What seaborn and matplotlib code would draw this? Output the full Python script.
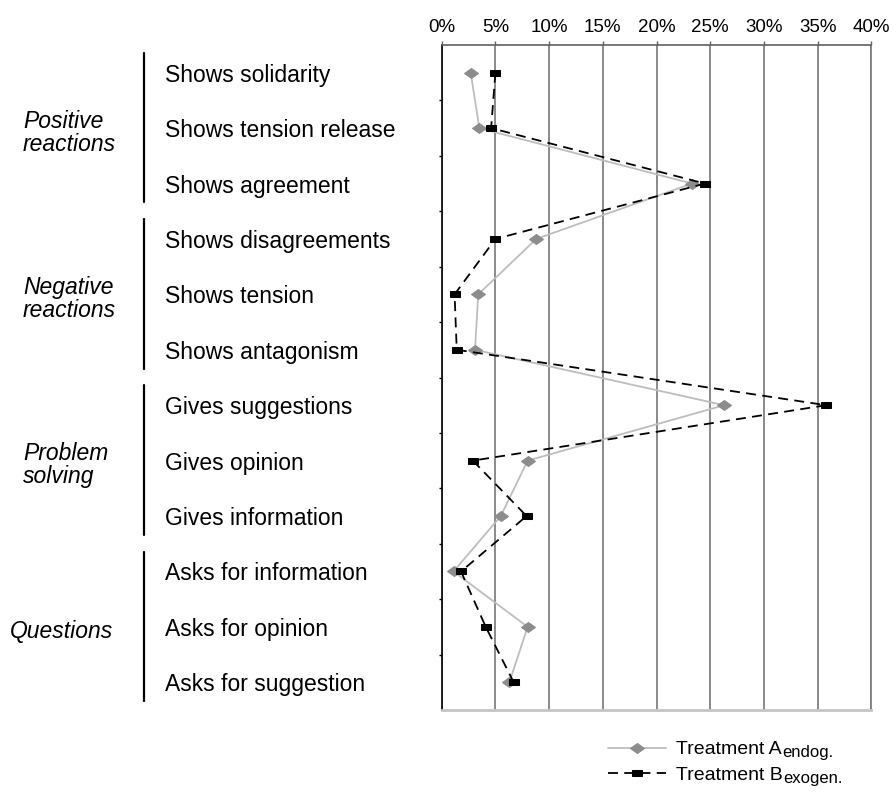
import pandas as pd
import matplotlib.pyplot as plt
import seaborn as sns
import numpy as np
from matplotlib.markers import MarkerStyle
from matplotlib.transforms import Affine2D, blended_transform_factory
from matplotlib.ticker import PercentFormatter, FixedLocator

categories = ['Shows solidarity', 'Shows tension release', 'Shows agreement',
              'Shows disagreements', 'Shows tension', 'Shows antagonism',
              'Gives suggestions', 'Gives opinion', 'Gives information',
              'Asks for information', 'Asks for opinion', 'Asks for suggestion']
groups = ['Positive\nreactions', 'Negative\nreactions', 'Problem\nsolving', 'Questions']
treat_a = [2.7, 3.5, 23.3, 8.8, 3.4, 3.1, 26.3, 8.0, 5.5, 1.1, 8.0, 6.3]
treat_b = [5.0, 4.6, 24.5, 5.0, 1.2, 1.4, 35.8, 2.9, 7.9, 1.8, 4.1, 6.7]
legend_labels = ['Treatment A', 'Treatment B']
legend_subs = ['endog.', 'exogen.']

pos = np.arange(len(categories))
df = pd.DataFrame({
    'pos': np.concatenate([pos, pos]),
    'share': treat_a + treat_b,
    'treatment': ['A'] * len(pos) + ['B'] * len(pos),
})

sns.set_style('white')
plt.rcParams['font.family'] = ['Liberation Sans', 'DejaVu Sans']
plt.rcParams['text.color'] = 'black'
plt.rcParams['xtick.labelcolor'] = 'black'
plt.rcParams['ytick.labelcolor'] = 'black'

fig = plt.figure(figsize=(8.96, 8.02), dpi=100)
ax = fig.add_axes([441.7 / 896, 1 - 710 / 802, 429.7 / 896, 665 / 802])

sns.lineplot(data=df, x='share', y='pos', hue='treatment', style='treatment',
             orient='y', sort=False, estimator=None, errorbar=None,
             palette={'A': '#bdbdbd', 'B': 'black'},
             dashes={'A': '', 'B': (5.5, 3.5)}, markers={'A': 'D', 'B': 's'},
             linewidth=1.3, legend=False, ax=ax)

la, lb = ax.lines[0], ax.lines[1]
la.set_marker(MarkerStyle('D', transform=Affine2D().scale(1.0, 0.62)))
la.set_markersize(7.5)
la.set_markerfacecolor('#8c8c8c')
la.set_markeredgecolor('#8c8c8c')
lb.set_marker(MarkerStyle('s', transform=Affine2D().scale(1.0, 0.58)))
lb.set_markersize(7)
lb.set_markerfacecolor('black')
lb.set_markeredgecolor('black')

ax.set_xlim(0, 40)
ax.set_ylim(11.5, -0.5)
ax.xaxis.tick_top()
ax.xaxis.set_major_locator(FixedLocator(np.arange(0, 41, 5)))
ax.xaxis.set_major_formatter(PercentFormatter(xmax=100, decimals=0))
ax.tick_params(axis='x', direction='out', length=3, width=1, color='#606060',
               labelsize=13.5, pad=3.5, labelcolor='black')
ax.grid(axis='x', color='#777777', linewidth=1.2)
ax.grid(axis='y', visible=False)
ax.set_xlabel('')
ax.set_ylabel('')

ax.set_yticks(pos)
ax.set_yticklabels(categories, ha='left', fontsize=16.5, color='black')
ax.tick_params(axis='y', which='major', length=0, pad=199)
ax.yaxis.set_minor_locator(FixedLocator(np.arange(0.5, 11, 1)))
ax.tick_params(axis='y', which='minor', direction='out', length=2.5, width=1, color='black', left=True)

for side in ['left', 'top', 'bottom', 'right']:
    ax.spines[side].set_visible(True)
ax.spines['left'].set_color('black')
ax.spines['left'].set_linewidth(1.2)
ax.spines['top'].set_color('#606060')
ax.spines['top'].set_linewidth(1.2)
ax.spines['bottom'].set_color('#c4c4c4')
ax.spines['bottom'].set_linewidth(2)
ax.spines['right'].set_color('#777777')
ax.spines['right'].set_linewidth(1.2)

# group labels and brackets
tr = blended_transform_factory(fig.transFigure, ax.transData)
for i, g in enumerate(groups):
    start = i * 3
    gx = 10 / 896 if g == 'Questions' else 23 / 896
    ax.text(gx, start + 1.08, g, transform=tr, fontsize=16.5, style='italic',
            ha='left', va='center', linespacing=1.0, color='black')
    ax.plot([144 / 896, 144 / 896], [start - 0.36, start + 2.34], transform=tr,
            color='black', linewidth=1.6, clip_on=False)

leg = fig.legend([la, lb], legend_labels, loc='upper left',
                 bbox_to_anchor=(598 / 896, 1 - 731 / 802), frameon=False,
                 fontsize=14, handlelength=3.0, handletextpad=0.5, labelspacing=0.4,
                 numpoints=1, borderpad=0, labelcolor='black')

# subscripts after the legend labels
fig.canvas.draw()
inv = fig.transFigure.inverted()
for txt, sub in zip(leg.get_texts(), legend_subs):
    bb = txt.get_window_extent()
    x0, y0 = inv.transform((bb.x1 + 1, bb.y0 - 2))
    fig.text(x0, y0, sub, fontsize=12, ha='left', va='bottom', color='black')

plt.savefig('out.png', dpi=100)
